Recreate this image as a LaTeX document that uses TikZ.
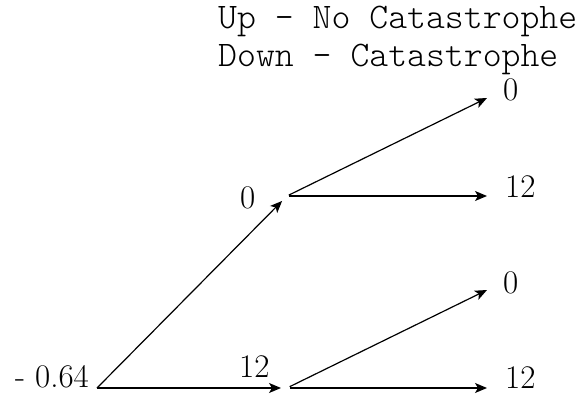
\documentclass[tikz,border=0pt]{standalone}
\usetikzlibrary{arrows.meta}
\begin{document}
\begin{tikzpicture}[x=1pt,y=-1pt,
  num/.style={font=\fontsize{33}{36}\selectfont, inner sep=0pt, anchor=base west},
  mono/.style={font=\ttfamily\fontseries{l}\fontsize{36}{40}\selectfont, inner sep=0pt, anchor=base west},
  edge/.style={line width=1.2pt},
  arr/.style={edge, -{Stealth[length=12pt,width=10pt,inset=3pt]}}]
\useasboundingbox (0,0) rectangle (582,396);
% legend
\node[mono] (t1) at (218,29) {Up - No Catastrophe};
\node[mono] (t2) at (218,67) {Down - Catastrophe};
% tree points
\coordinate (r) at (97,388);
\coordinate (u) at (287,196);
\coordinate (d) at (287,388);
\coordinate (uu) at (487,98);
\coordinate (ud) at (487,196);
\coordinate (du) at (487,290);
\coordinate (dd) at (487,388);
% labels
\node[num, anchor=base east] (rl) at (89,387) {- 0.64};
\node[num] (ul) at (240,208) {0};
\node[num] (dl) at (239,377) {12};
\node[num] (uul) at (503,101) {0};
\node[num] (udl) at (505,197) {12};
\node[num] (dul) at (503,293) {0};
\node[num] (ddl) at (505,388) {12};
% connectors
\draw[arr, shorten >=7pt] (r) -- (u);
\draw[arr, shorten >=6pt] (r) -- (d);
\draw[arr, shorten <=2pt] (u) -- (uu);
\draw[arr, shorten <=2pt] (u) -- (ud);
\draw[arr, shorten <=3pt] (d) -- (du);
\draw[arr, shorten <=3pt] (d) -- (dd);
\end{tikzpicture}
\end{document}
